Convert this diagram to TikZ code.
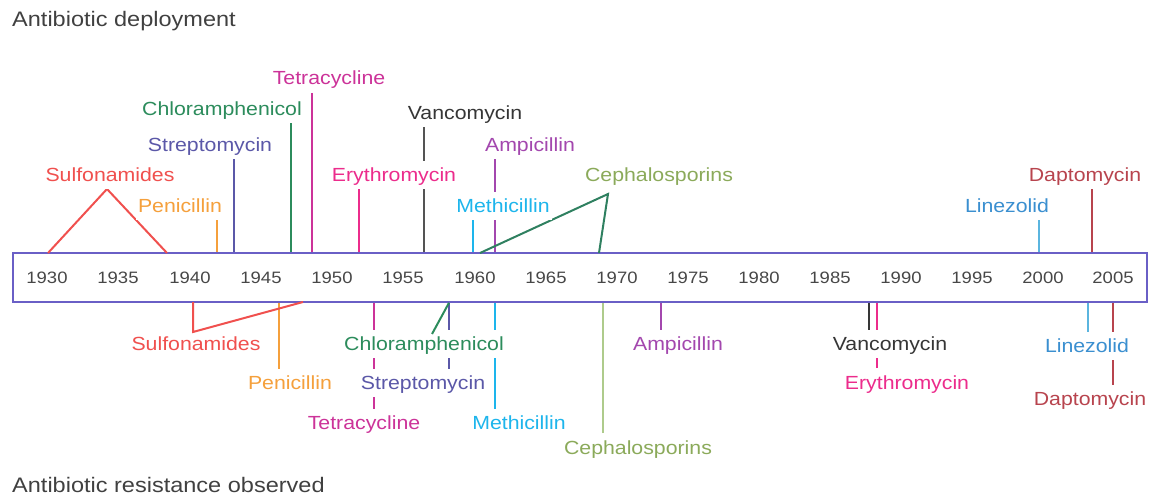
\documentclass[tikz,border=0pt]{standalone}
\usepackage{fontspec}
\setmainfont{Liberation Sans}[FakeStretch=1.12]
\usetikzlibrary{positioning}

\definecolor{axisc}{HTML}{6A5FC6}
\definecolor{sulfa}{HTML}{F0504E}
\definecolor{peni}{HTML}{F5A03C}
\definecolor{strep}{HTML}{5B58A8}
\definecolor{chlor}{HTML}{2C8C5C}
\definecolor{tetra}{HTML}{CC3399}
\definecolor{ery}{HTML}{EC2C8C}
\definecolor{vanco}{HTML}{363636}
\definecolor{ampi}{HTML}{A347AE}
\definecolor{methi}{HTML}{1DB5EC}
\definecolor{cephtxt}{HTML}{8BAA5A}
\definecolor{cephtop}{HTML}{2F8060}
\definecolor{cephbot}{HTML}{AECB8C}
\definecolor{linez}{HTML}{3A8FD0}
\definecolor{linezl}{HTML}{5BB5DF}
\definecolor{dapto}{HTML}{B8444E}

\begin{document}
\begin{tikzpicture}[
  x=1pt, y=-1pt,
  lab/.style={fill=white, inner xsep=2pt, inner ysep=0.5pt, text height=20.5pt,
              text depth=7pt, font=\fontsize{19}{22}\selectfont},
  yr/.style={text=black!72, inner sep=0pt, font=\fontsize{16.5}{19}\selectfont},
  ttl/.style={anchor=base west, inner sep=0pt, text=black!75,
              font=\fontsize{21}{25}\selectfont},
  tk/.style={line width=2pt},
]
\useasboundingbox (0,0) rectangle (1152,495);

\node[ttl] (deploy) at (12,27) {Antibiotic deployment};
\node[ttl] (resist) at (12,492) {Antibiotic resistance observed};

% time axis
\node[draw=axisc, line width=1.6pt, minimum width=1134pt, minimum height=49pt,
      inner sep=0pt] (axis) at (580,277.5) {};
\node[yr] (y1930) at (47,278) {1930};
\node[yr] (y1935) at (118,278) {1935};
\node[yr] (y1940) at (190,278) {1940};
\node[yr] (y1945) at (261,278) {1945};
\node[yr] (y1950) at (332,278) {1950};
\node[yr] (y1955) at (403,278) {1955};
\node[yr] (y1960) at (475,278) {1960};
\node[yr] (y1965) at (546,278) {1965};
\node[yr] (y1970) at (617,278) {1970};
\node[yr] (y1975) at (688,278) {1975};
\node[yr] (y1980) at (759,278) {1980};
\node[yr] (y1985) at (830,278) {1985};
\node[yr] (y1990) at (901,278) {1990};
\node[yr] (y1995) at (972,278) {1995};
\node[yr] (y2000) at (1043,278) {2000};
\node[yr] (y2005) at (1113,278) {2005};

% deployment
\coordinate (sulfaT1) at (48,253);
\coordinate (sulfaT2) at (107,189);
\coordinate (sulfaT3) at (167,253);
\coordinate (peniT) at (217,219);
\coordinate (strepT) at (234,159);
\coordinate (chlorT) at (291,123);
\coordinate (tetraT) at (312,93);
\coordinate (eryT) at (359,189);
\coordinate (vancoT) at (424,125);
\coordinate (ampiT) at (495,159);
\coordinate (methiT) at (473,218);
\coordinate (cephT1) at (480,253);
\coordinate (cephT2) at (608,194);
\coordinate (cephT3) at (599,253);
\coordinate (linezT) at (1039,217);
\coordinate (daptoT) at (1092,189);

\draw[tk, sulfa] (sulfaT1) -- (sulfaT2) -- (sulfaT3);
\draw[tk, peni] (peniT) -- (peniT |- axis.north);
\draw[tk, strep] (strepT) -- (strepT |- axis.north);
\draw[tk, chlor] (chlorT) -- (chlorT |- axis.north);
\draw[tk, tetra] (tetraT) -- (tetraT |- axis.north);
\draw[tk, ery] (eryT) -- (eryT |- axis.north);
\draw[tk, vanco!85] (vancoT) -- (vancoT |- axis.north);
\draw[tk, ampi] (ampiT) -- (ampiT |- axis.north);
\draw[tk, methi] (methiT) -- (methiT |- axis.north);
\draw[tk, cephtop] (cephT1) -- (cephT2) -- (cephT3);
\draw[tk, linezl] (linezT) -- (linezT |- axis.north);
\draw[tk, dapto] (daptoT) -- (daptoT |- axis.north);

% resistance
\coordinate (sulfaB1) at (193,302);
\coordinate (sulfaB2) at (193,332);
\coordinate (sulfaB3) at (303,302);
\coordinate (peniB) at (279,369);
\coordinate (chlorB) at (432,334);
\coordinate (strepB) at (449,370);
\coordinate (tetraB) at (374,412);
\coordinate (methiB) at (495,410);
\coordinate (cephB) at (603,433);
\coordinate (ampiB) at (661,333);
\coordinate (vancoB) at (869,334);
\coordinate (eryB) at (877,368);
\coordinate (linezB) at (1088,332);
\coordinate (daptoB) at (1113,387);

\draw[tk, peni] (peniB) -- (peniB |- axis.south);
\draw[tk, strep] (strepB) -- (strepB |- axis.south);
\draw[tk, tetra] (tetraB) -- (tetraB |- axis.south);
\draw[tk, methi] (methiB) -- (methiB |- axis.south);
\draw[tk, cephbot] (cephB) -- (cephB |- axis.south);
\draw[tk, ampi] (ampiB) -- (ampiB |- axis.south);
\draw[tk, vanco] (vancoB) -- (vancoB |- axis.south);
\draw[tk, ery] (eryB) -- (eryB |- axis.south);
\draw[tk, linezl] (linezB) -- (linezB |- axis.south);
\draw[tk, dapto] (daptoB) -- (daptoB |- axis.south);

% labels above
\node[lab, text=sulfa] (dSulfa) at (110,175) {Sulfonamides};
\node[lab, text=peni] (dPeni) at (180,206) {Penicillin};
\node[lab, text=strep] (dStrep) at (210,145) {Streptomycin};
\node[lab, text=chlor] (dChlor) at (222,109) {Chloramphenicol};
\node[lab, text=tetra] (dTetra) at (329,78) {Tetracycline};
\node[lab, text=ery] (dEry) at (394,175) {Erythromycin};
\node[lab, text=vanco] (dVanco) at (465,113) {Vancomycin};
\node[lab, text=ampi] (dAmpi) at (530,145) {Ampicillin};
\node[lab, text=methi] (dMethi) at (503,206) {Methicillin};
\node[lab, text=cephtxt] (dCeph) at (659,175) {Cephalosporins};
\node[lab, text=linez] (dLinez) at (1007,206) {Linezolid};
\node[lab, text=dapto] (dDapto) at (1085,175) {Daptomycin};

% labels below
\node[lab, text=sulfa] (rSulfa) at (196,344) {Sulfonamides};
\node[lab, text=peni] (rPeni) at (290,383) {Penicillin};
\node[lab, text=chlor] (rChlor) at (424,344) {Chloramphenicol};
\node[lab, text=strep] (rStrep) at (423,383) {Streptomycin};
\node[lab, text=tetra] (rTetra) at (364,423) {Tetracycline};
\node[lab, text=methi] (rMethi) at (519,423) {Methicillin};
\node[lab, text=cephtxt] (rCeph) at (638,448) {Cephalosporins};
\node[lab, text=ampi] (rAmpi) at (678,344) {Ampicillin};
\node[lab, text=vanco] (rVanco) at (890,344) {Vancomycin};
\node[lab, text=ery] (rEry) at (907,383) {Erythromycin};
\node[lab, text=linez] (rLinez) at (1087,346) {Linezolid};
\node[lab, text=dapto] (rDapto) at (1090,399) {Daptomycin};

% these two touch their own labels, so they go on top
\draw[tk, sulfa] (sulfaB1) -- (sulfaB2) -- (sulfaB3);
\draw[tk, chlor] (chlorB) -- (strepB |- axis.south);
\end{tikzpicture}
\end{document}
